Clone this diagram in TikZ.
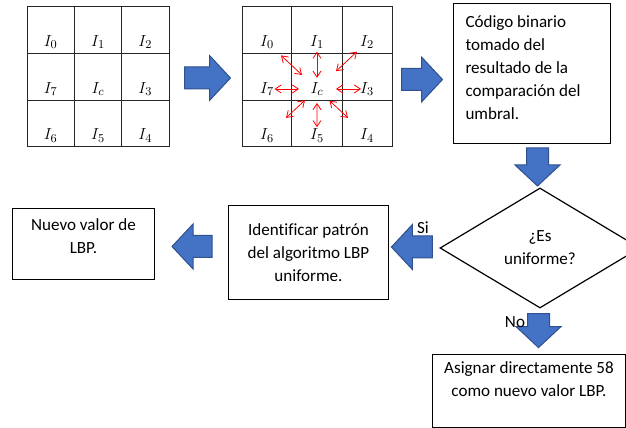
\documentclass[tikz,border=0pt]{standalone}
\usepackage[no-math]{fontspec}
\setmainfont{Carlito}[Ligatures=NoCommon]
\usetikzlibrary{shapes.geometric,arrows.meta,calc}
\definecolor{office}{HTML}{4472C4}
\definecolor{officedark}{HTML}{2F528F}
\tikzset{
  gridbox/.style={draw=black!85,line width=0.75pt,inner sep=0pt,minimum height=105pt},
  cell/.style={draw=black!85,line width=0.75pt},
  lbl/.style={inner sep=0pt,font=\fontsize{13pt}{15pt}\selectfont},
  tbox/.style={draw=black,line width=0.75pt,inner sep=0pt,anchor=north west,
               font=\fontsize{12.8pt}{17.25pt}\selectfont},
  dec/.style={diamond,draw=black,line width=0.9pt,inner sep=0pt,align=center,
              minimum width=150pt,minimum height=90pt,font=\fontsize{12.8pt}{17.25pt}\selectfont},
  tag/.style={inner sep=0pt,font=\fontsize{12.8pt}{15pt}\selectfont},
  cmp/.style={draw=red,line width=0.6pt,
              {Straight Barb[length=4.5pt,width=6pt]}-{Straight Barb[length=4.5pt,width=6pt]}},
  pics/blk/.style={code={
    \draw[fill=office,draw=officedark,line width=0.75pt]
      (0,-11) -- ({#1-21},-11) -- ({#1-21},-22.5) -- (#1,0) -- ({#1-21},22.5)
      -- ({#1-21},11) -- (0,11) -- cycle;}}
}
\begin{document}
\begin{tikzpicture}[x=0.75pt,y=-0.75pt]
  \useasboundingbox (0,0) rectangle (626,428);

  % the two 3x3 windows
  \node[gridbox,minimum width=106.5pt] (grid1) at (98,77) {};
  \node[gridbox,minimum width=112.5pt] (grid2) at (317,77) {};
  \foreach \g in {grid1,grid2}
    \foreach \k in {1,2} {
      \draw[cell] ($(\g.north west)!\k/3!(\g.north east)$) -- ($(\g.south west)!\k/3!(\g.south east)$);
      \draw[cell] ($(\g.north west)!\k/3!(\g.south west)$) -- ($(\g.north east)!\k/3!(\g.south east)$);
    }
  \foreach \n/\c/\r in {0/0/0,1/1/0,2/2/0,7/0/1,c/1/1,3/2/1,6/0/2,5/1/2,4/2/2} {
    \node[lbl] (p\n) at ({27+47.33*\c+23.67},{7+46.67*\r+35.3}) {$I_\n$};
    \node[lbl] (q\n) at ({242+50*\c+25},{7+46.67*\r+35.3}) {$I_\n$};
  }
  \foreach \n/\a/\b in {0/0.3/0.72,1/0.24/0.8,2/0.38/0.8,3/0.38/0.88,
                        4/0.25/0.62,5/0.3/0.82,6/0.24/0.62,7/0.36/0.85}
    \draw[cmp] ($(qc)!\a!(q\n)$) -- ($(qc)!\b!(q\n)$);

  % boxes
  \node[tbox] (code) at (453,3) {\parbox[c][105pt][t]{117.75pt}{\raggedright\leftskip=9pt
    \rule{0pt}{18pt}Código binario\\tomado del\\resultado de la\\comparación del\\umbral.}};
  \node[dec] (uni) at (540,248) {¿Es\\uniforme?};
  \node[tbox] (pat) at (228,205) {\parbox[c][70.5pt][t]{120pt}{\centering
    \rule{0pt}{22.5pt}Identificar patrón\\del algoritmo LBP\\uniforme.}};
  \node[tbox] (val) at (12,208) {\parbox[c][53.25pt][t]{106.5pt}{\centering
    \rule{0pt}{16.5pt}Nuevo valor de\\LBP.}};
  \node[tbox] (asg) at (432,354) {\parbox[c][54.75pt][t]{144.75pt}{\centering
    \rule{0pt}{14.25pt}Asignar directamente 58\\como nuevo valor LBP.}};

  % block arrows
  \pic (a1) at ($(grid1.east)+(15,1)$) {blk=46};
  \pic (a2) at ($(grid2.east)+(9,2.5)$) {blk=41};
  \pic[rotate=-90] (a3) at ($(code.south)+(5.5,4)$) {blk=38};
  \pic[rotate=180] (a4) at ($(uni.west)+(-7,-1)$) {blk=41};
  \pic[rotate=180] (a5) at ($(pat.west)+(-16,-6)$) {blk=40};
  \pic[rotate=-90] (a6) at ($(uni.south)+(-1.5,5)$) {blk=34};

  \node[tag] (si) at (423,228) {Si};
  \node[tag] (no) at (515,322) {No};
\end{tikzpicture}
\end{document}
